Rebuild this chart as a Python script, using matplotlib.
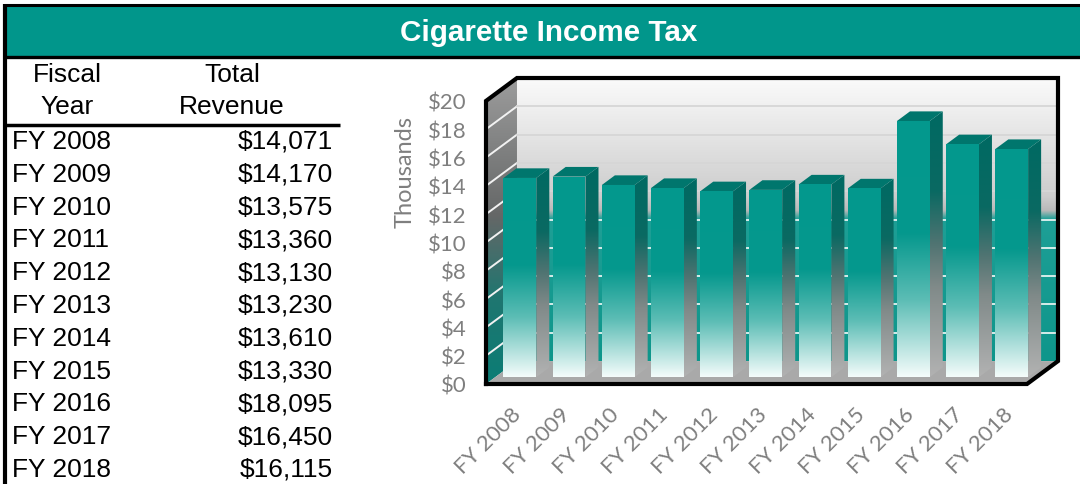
import numpy as np
import matplotlib
matplotlib.use("Agg")
import matplotlib.pyplot as plt
from matplotlib.patches import Polygon, Rectangle
from matplotlib.colors import to_rgb

# ---- data -------------------------------------------------------------
fiscal_years = ["FY 2008", "FY 2009", "FY 2010", "FY 2011", "FY 2012", "FY 2013",
                "FY 2014", "FY 2015", "FY 2016", "FY 2017", "FY 2018"]
revenue = [14071, 14170, 13575, 13360, 13130, 13230, 13610, 13330, 18095, 16450, 16115]
value_ticks = [0, 2, 4, 6, 8, 10, 12, 14, 16, 18, 20]
value_tick_labels = ["$0", "$2", "$4", "$6", "$8", "$10", "$12", "$14", "$16", "$18", "$20"]
title_text = "Cigarette Income Tax"
table_headers = [("Fiscal", "Year"), ("Total", "Revenue")]
axis_title = "Thousands"

# ---- styling ------------------------------------------------------------
TEAL = "#01968b"
TOP_FACE = "#00766d"
GRAY_TXT = "#7f7f7f"
TABLE_FONT = ["Liberation Sans", "DejaVu Sans"]
plt.rcParams["font.family"] = ["Lato", "DejaVu Sans"]

W, H = 1080, 485
fig = plt.figure(figsize=(W / 100, H / 100), dpi=100)
fig.patch.set_facecolor("white")

# page layer in pixel units (origin top-left)
page = fig.add_axes([0, 0, 1, 1])
page.set_xlim(0, W)
page.set_ylim(H, 0)
page.axis("off")

# title banner
page.add_patch(Rectangle((5, 6), W - 5, 52, facecolor=TEAL, edgecolor="none", zorder=1))
page.plot([4, W], [5.5, 5.5], color="black", lw=2.2, zorder=2, solid_capstyle="butt")
page.plot([4, W], [58, 58], color="black", lw=2.4, zorder=2, solid_capstyle="butt")
page.plot([4.5, 4.5], [4.5, H], color="black", lw=3, zorder=2, solid_capstyle="butt")
page.text(549, 33, title_text, color="white", fontsize=21.3, fontweight="bold",
          ha="center", va="center", family=TABLE_FONT)

# table
FS = 19.0
for cx, (l1, l2) in zip([67, 232], table_headers):
    page.text(cx, 75, l1, ha="center", va="center", fontsize=FS, family=TABLE_FONT)
    page.text(cx, 107, l2, ha="center", va="center", fontsize=FS, family=TABLE_FONT)
page.plot([5, 340], [125.5, 125.5], color="black", lw=2.5, solid_capstyle="butt")
for i, (fy, val) in enumerate(zip(fiscal_years, revenue)):
    y = 142 + 32.8 * i
    page.text(12, y, fy, ha="left", va="center", fontsize=FS, family=TABLE_FONT)
    page.text(333, y, f"${val:,}", ha="right", va="center", fontsize=FS, family=TABLE_FONT)

# ---- 3-D style column chart ------------------------------------------------
N = len(revenue)
VMAX = 20
DX, DY = 0.63, 1.62          # depth offset of the back wall in data units
D0, D1 = 0.30, 0.72          # depth span occupied by the columns
BAR_W = 1 / 1.5              # gap width 50%

ax = fig.add_axes([486 / W, (H - 385) / H, 572 / W, 306 / H])
ax.set_xlim(0, N + DX)
ax.set_ylim(0, VMAX + DY)
ax.patch.set_visible(False)
for s in ax.spines.values():
    s.set_visible(False)


def P(x, v, d):
    return (x + d * DX, v + d * DY)


def gradient(stops, n=256):
    pos = np.array([s[0] for s in stops])
    cols = np.array([to_rgb(s[1]) for s in stops])
    t = np.linspace(0, 1, n)
    arr = np.stack([np.interp(t, pos, cols[:, k]) for k in range(3)], axis=-1)
    return arr[:, None, :]


def fill_gradient(pts, stops, zorder):
    pts = np.array(pts)
    poly = Polygon(pts, closed=True, transform=ax.transData, facecolor="none", edgecolor="none")
    extent = (pts[:, 0].min(), pts[:, 0].max(), pts[:, 1].min(), pts[:, 1].max())
    im = ax.imshow(gradient(stops), extent=extent, origin="upper", aspect="auto",
                   interpolation="bilinear", zorder=zorder)
    im.set_clip_path(poly)


# back wall
back = [P(0, 0, 1), P(N, 0, 1), P(N, VMAX, 1), P(0, VMAX, 1)]
fill_gradient(back, [(0, "#fbfbfb"), (0.42, "#cdcdcd"), (0.47, "#b9b9b9"),
                     (0.5, "#1e9f96"), (1, "#0e968b")], 1)
# side wall
side = [P(0, 0, 0), P(0, 0, 1), P(0, VMAX, 1), P(0, VMAX, 0)]
fill_gradient(side, [(0, "#9c9c9c"), (0.45, "#656767"), (0.72, "#1f7670"),
                     (1, "#0b7d75")], 1)
# floor
floor = [P(0, 0, 0), P(N, 0, 0), P(N, 0, 1), P(0, 0, 1)]
ax.add_patch(Polygon(floor, closed=True, facecolor="#a9a9a9", edgecolor="none", zorder=2))

# gridlines on the walls
for v in value_ticks[1:]:
    x0, y0 = P(0, v, 0)
    x1, y1 = P(0, v, 1)
    ax.plot([x0, x1], [y0, y1], color="#f2f2f2", lw=1.4, zorder=2)
    bx0, by0 = P(0, v, 1)
    bx1, by1 = P(N, v, 1)
    ax.plot([bx0, bx1], [by0, by1], color="#d6d6d6" if v >= 12 else "#e4f3f1",
            lw=1.3, zorder=2)

front_stops = [(0, "#03998e"), (0.44, "#05988d"), (0.7, "#5cbdb5"), (1, "#f4fcfb")]
side_stops = [(0, "#006a62"), (0.3, "#0a6962"), (0.5, "#507472"), (0.66, "#808a89"),
              (1, "#b2b2b2")]

for i, val in enumerate(revenue):
    v = val / 1000
    xl = i + (1 - BAR_W) / 2
    xr = xl + BAR_W
    # side face
    sf = [P(xr, 0, D0), P(xr, 0, D1), P(xr, v, D1), P(xr, v, D0)]
    fill_gradient(sf, side_stops, 3)
    # top face
    tf = [P(xl, v, D0), P(xr, v, D0), P(xr, v, D1), P(xl, v, D1)]
    ax.add_patch(Polygon(tf, closed=True, facecolor=TOP_FACE, edgecolor="none", zorder=3))
    # front face
    ff = [P(xl, 0, D0), P(xr, 0, D0), P(xr, v, D0), P(xl, v, D0)]
    fill_gradient(ff, front_stops, 4)

# outline of the box
outline = [P(0, 0, 0), P(0, VMAX, 0), P(0, VMAX, 1), P(N, VMAX, 1), P(N, 0, 1), P(N, 0, 0), P(0, 0, 0)]
ox, oy = zip(*outline)
ax.plot(ox, oy, color="black", lw=3, zorder=10, clip_on=False, solid_joinstyle="miter")

ax.set_xlim(0, N + DX)
ax.set_ylim(0, VMAX + DY)

# axes labels
ax.set_yticks(value_ticks)
ax.set_yticklabels(value_tick_labels)
ax.set_xticks(np.arange(N) + 0.5)
ax.set_xticklabels(fiscal_years, rotation=45, ha="right", rotation_mode="anchor")
ax.tick_params(axis="y", length=0, pad=14, labelcolor=GRAY_TXT, labelsize=16)
ax.tick_params(axis="x", length=0, pad=14, labelcolor=GRAY_TXT, labelsize=16)

fig.text(405 / W, 1 - 172 / H, axis_title, rotation=90, ha="center", va="center",
         color=GRAY_TXT, fontsize=17)

fig.savefig("out.png", dpi=100)
